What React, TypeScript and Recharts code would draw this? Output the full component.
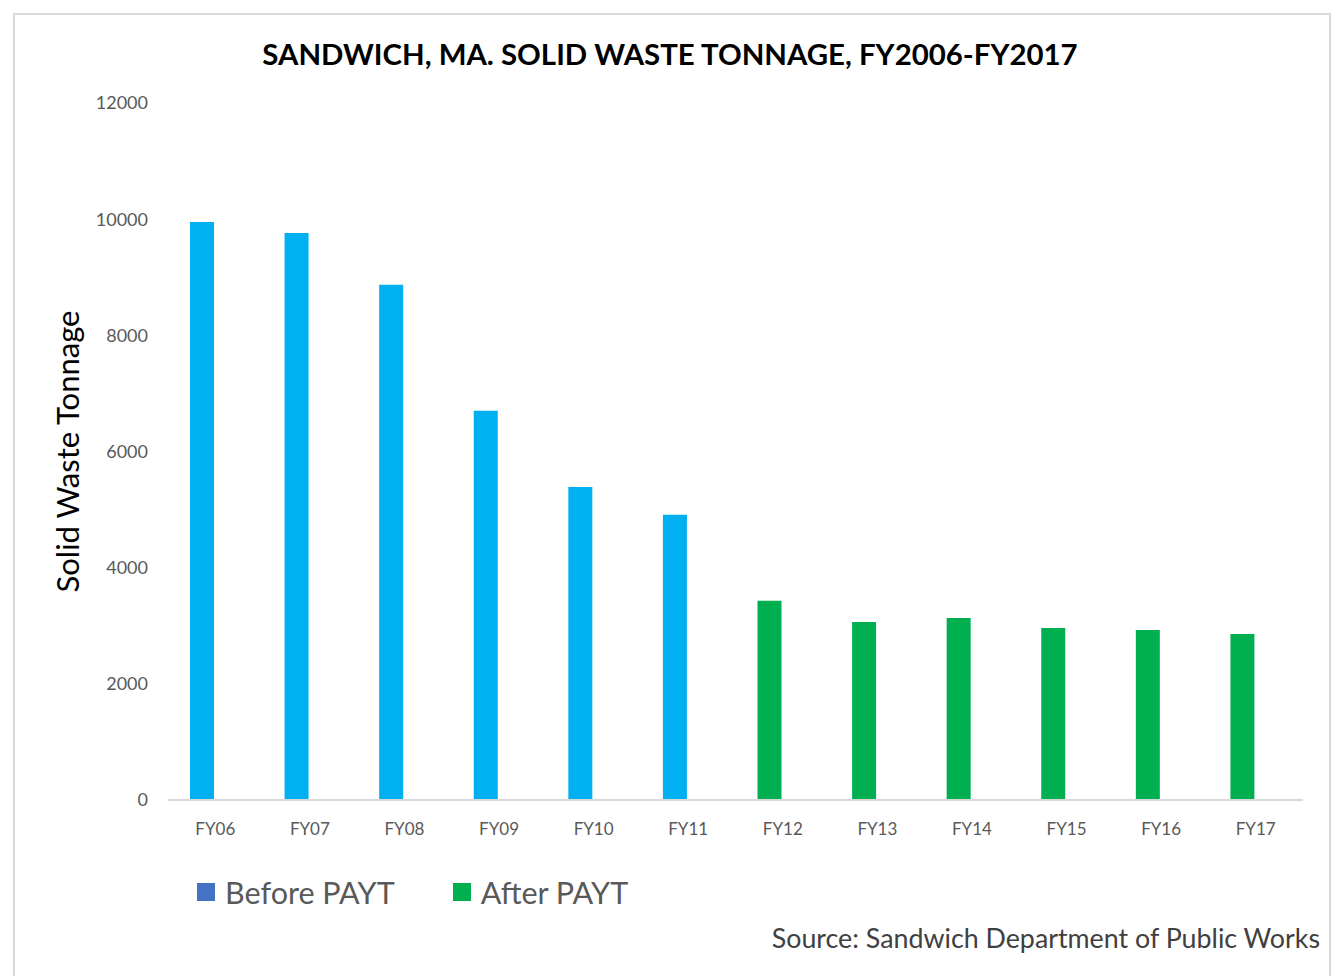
import React from "react";
import { BarChart, Bar, XAxis, YAxis } from "recharts";

const categories = ["FY06", "FY07", "FY08", "FY09", "FY10", "FY11", "FY12", "FY13", "FY14", "FY15", "FY16", "FY17"];
const beforePayt = [9950, 9760, 8870, 6700, 5390, 4910, null, null, null, null, null, null];
const afterPayt = [null, null, null, null, null, null, 3430, 3065, 3135, 2960, 2925, 2860];
const yTicks = [0, 2000, 4000, 6000, 8000, 10000, 12000];
const legendItems = [
  { label: "Before PAYT", color: "#4472C4" },
  { label: "After PAYT", color: "#00B050" },
];

const data = categories.map((c, i) => ({ name: c, before: beforePayt[i], after: afterPayt[i], empty: null }));

const FONT = "Lato, 'Open Sans', sans-serif";

export default function App() {
  return (
    <div style={{ position: "absolute", left: 0, top: 0, width: 1337, height: 976, background: "#fff", overflow: "hidden" }}>
      <div style={{ position: "absolute", left: 13, top: 13, width: 1318, height: 1000, border: "2px solid #d9d9d9", boxSizing: "border-box" }} />
      <div style={{ position: "absolute", left: 0, width: 1340, top: 36, textAlign: "center", fontFamily: FONT, fontWeight: 700, fontSize: 29.4, color: "#000" }}>
        SANDWICH, MA. SOLID WASTE TONNAGE, FY2006-FY2017
      </div>
      <div style={{ position: "absolute", left: 0, top: 0 }}>
        <BarChart width={1337} height={976} data={data} margin={{ top: 103, right: 34, left: 108, bottom: 146 }} barSize={24} barGap={2}>
          <YAxis
            width={60}
            domain={[0, 12000]}
            ticks={yTicks}
            axisLine={false}
            tickLine={false}
            tickSize={0}
            tickMargin={20}
            tick={{ fill: "#595959", fontSize: 18, fontFamily: FONT }}
            label={{ value: "Solid Waste Tonnage", angle: -90, position: "insideLeft", dx: -45, dy: 0, style: { textAnchor: "middle", fill: "#000", fontSize: 31, fontFamily: FONT } }}
          />
          <XAxis
            dataKey="name"
            height={30}
            axisLine={{ stroke: "#d9d9d9", strokeWidth: 2 }}
            tickLine={false}
            tickSize={0}
            tickMargin={23}
            tick={{ fill: "#595959", fontSize: 17, fontFamily: FONT }}
          />
          <Bar dataKey="before" name="Before PAYT" stackId="a" fill="#00B0F0" isAnimationActive={false} />
          <Bar dataKey="after" name="After PAYT" stackId="a" fill="#00B050" isAnimationActive={false} />
          <Bar dataKey="empty" name="" stackId="b" fill="none" legendType="none" isAnimationActive={false} />
        </BarChart>
      </div>
      <div style={{ position: "absolute", left: 197, top: 874, display: "flex", alignItems: "center", fontFamily: FONT }}>
        {legendItems.map((it) => (
          <div key={it.label} style={{ display: "flex", alignItems: "center", marginRight: 58 }}>
            <span style={{ display: "inline-block", width: 18, height: 18, background: it.color, marginRight: 10 }} />
            <span style={{ fontSize: 30.5, color: "#595959" }}>{it.label}</span>
          </div>
        ))}
      </div>
      <div style={{ position: "absolute", right: 17, top: 922, fontFamily: FONT, fontSize: 26.8, color: "#404040" }}>
        Source: Sandwich Department of Public Works
      </div>
    </div>
  );
}
